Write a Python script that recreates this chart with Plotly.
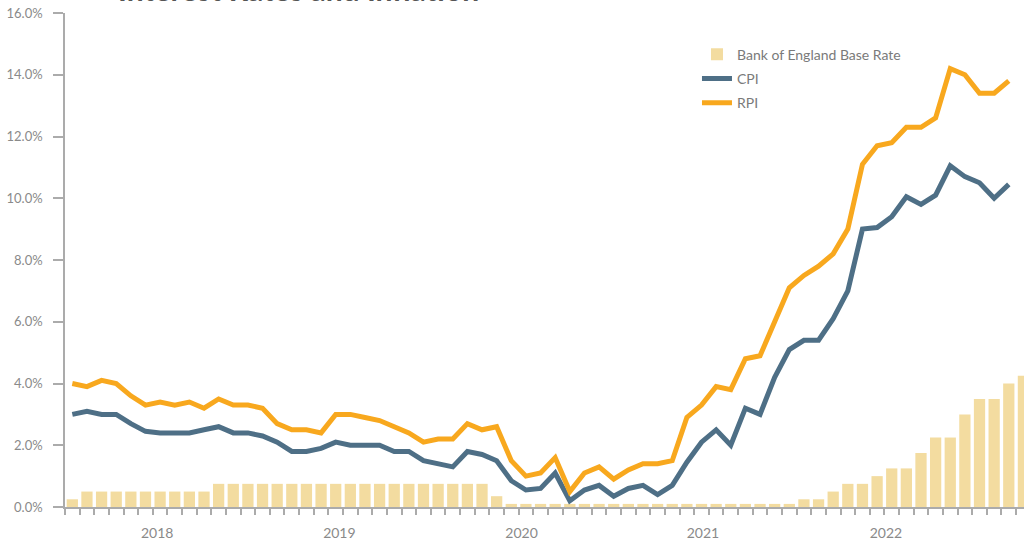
import plotly.graph_objects as go
import pandas as pd

# Monthly categories, Oct 2017 .. Mar 2023
months = [p.strftime("%b %Y") for p in pd.period_range("2017-10", "2023-03", freq="M")]

# Bank of England base rate (%)
base_rate = [0.25,
             0.5, 0.5, 0.5, 0.5, 0.5, 0.5, 0.5, 0.5, 0.5,
             0.75, 0.75, 0.75, 0.75, 0.75, 0.75, 0.75, 0.75, 0.75, 0.75,
             0.75, 0.75, 0.75, 0.75, 0.75, 0.75, 0.75, 0.75, 0.75,
             0.35,
             0.1, 0.1, 0.1, 0.1, 0.1, 0.1, 0.1, 0.1, 0.1, 0.1,
             0.1, 0.1, 0.1, 0.1, 0.1, 0.1, 0.1, 0.1, 0.1, 0.1,
             0.25, 0.25, 0.5, 0.75, 0.75, 1.0, 1.25, 1.25, 1.75, 2.25,
             2.25, 3.0, 3.5, 3.5, 4.0, 4.25]

# CPI annual rate (%), Oct 2017 .. Feb 2023
cpi = [3.0, 3.1, 3.0,
       3.0, 2.7, 2.45, 2.4, 2.4, 2.4, 2.5, 2.6, 2.4, 2.4, 2.3, 2.1,
       1.8, 1.8, 1.9, 2.1, 2.0, 2.0, 2.0, 1.8, 1.8, 1.5, 1.4, 1.3,
       1.8, 1.7, 1.5, 0.85, 0.55, 0.6, 1.1, 0.2, 0.55, 0.7, 0.35, 0.6,
       0.7, 0.4, 0.7, 1.45, 2.1, 2.5, 2.0, 3.2, 3.0, 4.2, 5.1, 5.4,
       5.4, 6.1, 7.0, 9.0, 9.05, 9.4, 10.05, 9.8, 10.1, 11.05, 10.7, 10.5,
       10.0, 10.45]

# RPI annual rate (%), Oct 2017 .. Feb 2023
rpi = [4.0, 3.9, 4.1,
       4.0, 3.6, 3.3, 3.4, 3.3, 3.4, 3.2, 3.5, 3.3, 3.3, 3.2, 2.7,
       2.5, 2.5, 2.4, 3.0, 3.0, 2.9, 2.8, 2.6, 2.4, 2.1, 2.2, 2.2,
       2.7, 2.5, 2.6, 1.5, 1.0, 1.1, 1.6, 0.5, 1.1, 1.3, 0.9, 1.2,
       1.4, 1.4, 1.5, 2.9, 3.3, 3.9, 3.8, 4.8, 4.9, 6.0, 7.1, 7.5,
       7.8, 8.2, 9.0, 11.1, 11.7, 11.8, 12.3, 12.3, 12.6, 14.2, 14.0, 13.4,
       13.4, 13.8]

year_labels = ["2018", "2019", "2020", "2021", "2022"]
year_label_pos = [5.8, 18.25, 30.7, 43.1, 55.6]

title_text = "Interest Rates and Inflation"

x_bar = list(range(len(months)))
x_cpi = x_bar[:len(cpi)]
x_rpi = x_bar[:len(rpi)]

AXIS = "#ababab"
TXT = "#8a8a8a"

fig = go.Figure()
fig.add_trace(go.Bar(x=x_bar, y=base_rate, name="Bank of England Base Rate",
                     legendgroup="g1",
                     marker=dict(color="#F3DCA0", line=dict(width=0)),
                     customdata=months))
fig.add_trace(go.Scatter(x=x_cpi, y=cpi, mode="lines", name="CPI",
                         legendgroup="g2",
                         line=dict(color="#4E6F86", width=5)))
fig.add_trace(go.Scatter(x=x_rpi, y=rpi, mode="lines", name="RPI",
                         legendgroup="g3",
                         line=dict(color="#F8A81E", width=5)))

fig.update_layout(
    width=1024, height=542,
    margin=dict(l=65, r=0, t=13, b=35),
    paper_bgcolor="white", plot_bgcolor="white",
    font=dict(family="Lato", color=TXT),
    bargap=0.23,
    showlegend=True,
    legend=dict(x=0.659, y=0.948, xanchor="left", yanchor="top",
                font=dict(size=14, color="#7a7a7a"),
                bgcolor="rgba(0,0,0,0)", tracegroupgap=3),
    xaxis=dict(range=[-0.5, 65.04], tickmode="array",
               tickvals=year_label_pos, ticktext=year_labels,
               ticks="", showline=True, linecolor=AXIS, linewidth=1.5,
               showgrid=False, zeroline=False,
               tickfont=dict(size=14, color=TXT), ticklabelstandoff=12,
               minor=dict(tickmode="linear", tick0=-0.5, dtick=1,
                          ticks="outside", ticklen=6, tickcolor=AXIS,
                          tickwidth=1.5, showgrid=False)),
    yaxis=dict(range=[0, 16], tickmode="linear", tick0=0, dtick=2,
               tickformat=".1f", ticksuffix="%",
               ticks="outside", ticklen=10, tickcolor=AXIS, tickwidth=1.5,
               showline=True, linecolor=AXIS, linewidth=1.5,
               showgrid=False, zeroline=False,
               tickfont=dict(size=13, color=TXT), ticklabelstandoff=8),
    annotations=[dict(text=title_text, xref="paper", yref="paper",
                      x=0, y=1, xanchor="left", yanchor="middle",
                      xshift=51, yshift=24, showarrow=False,
                      font=dict(family="Lato", size=30, color="#555555",
                                weight="bold"))],
)

fig.write_html("out.html", config={"displayModeBar": False},
               post_script="document.body.style.margin='0px';")
